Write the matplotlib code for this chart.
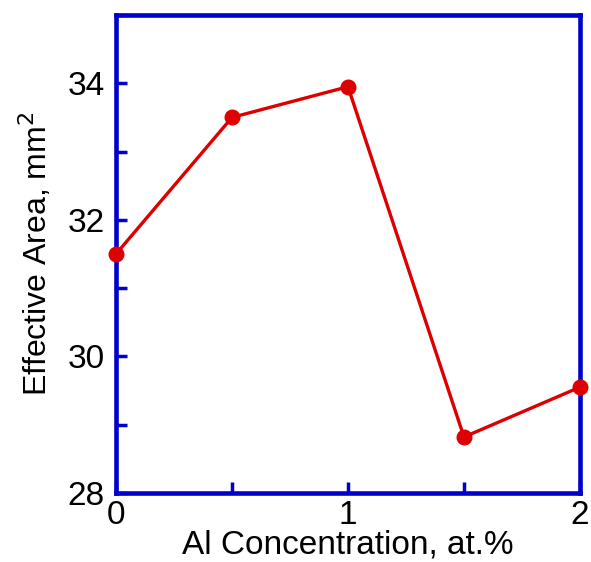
import matplotlib
matplotlib.use("Agg")
import matplotlib.pyplot as plt
from matplotlib.ticker import MultipleLocator

al_conc = [0, 0.5, 1.0, 1.5, 2.0]
eff_area = [31.5, 33.5, 33.95, 28.82, 29.55]

plt.rcParams['font.family'] = ['Liberation Sans', 'DejaVu Sans']
blue = '#0000CC'
red = '#DD0000'

fig = plt.figure(figsize=(5.91, 5.62), dpi=100)
ax = fig.add_axes([0.1963, 0.1228, 0.785, 0.8505])
ax.plot(al_conc, eff_area, color=red, lw=2.4, marker='o', ms=10.5, clip_on=False, zorder=5)
ax.set_xlim(0, 2)
ax.set_ylim(28, 35)
ax.xaxis.set_major_locator(MultipleLocator(1))
ax.xaxis.set_minor_locator(MultipleLocator(0.5))
ax.yaxis.set_major_locator(MultipleLocator(2))
ax.yaxis.set_minor_locator(MultipleLocator(1))
for s in ax.spines.values():
    s.set_color(blue)
    s.set_linewidth(3.3)
ax.tick_params(which='both', direction='in', color=blue, width=2.5, labelsize=24, top=False, right=False)
ax.tick_params(which='both', length=8)
ax.tick_params(axis='x', pad=5)
ax.tick_params(axis='y', pad=8)
ax.set_xlabel('Al Concentration, at.%', fontsize=24, labelpad=-1)
ax.set_ylabel('Effective Area, mm$^2$', fontsize=23, labelpad=10)
fig.savefig('out.png', dpi=100)
